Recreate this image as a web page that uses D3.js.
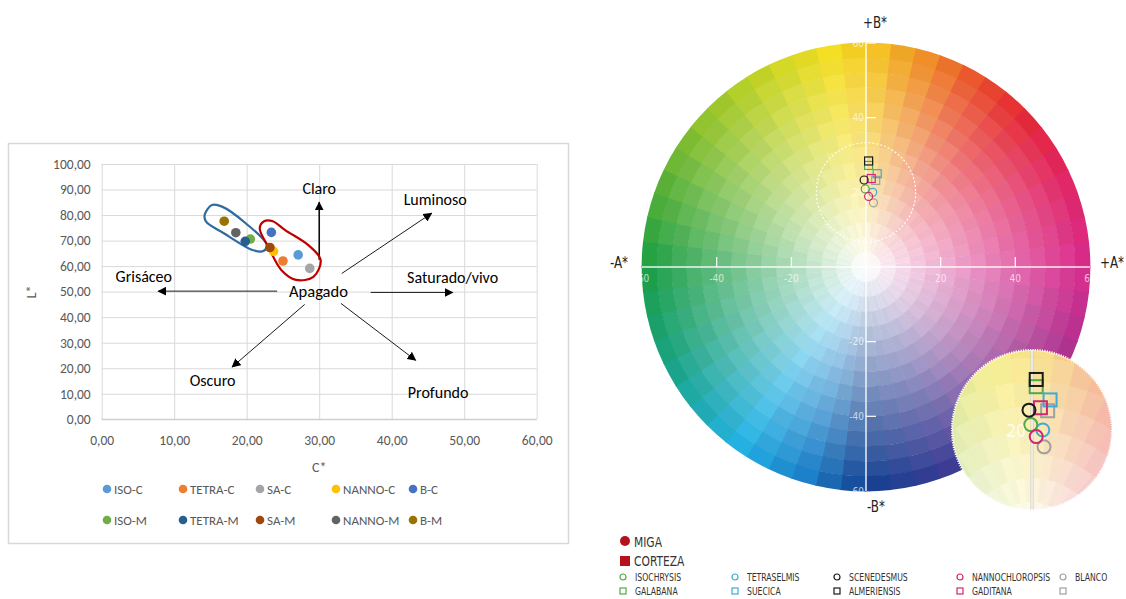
<!DOCTYPE html>
<html>
<head>
<meta charset="utf-8">
<script src="https://cdn.jsdelivr.net/npm/d3@7"></script>
<style>
  body { margin: 0; background: #fff; }
  svg { display: block; }
</style>
</head>
<body>
<svg id="chart" width="1126" height="599"></svg>
<script>
// ---------- left chart: L* vs C* ----------
const seriesNames = ["ISO-C", "TETRA-C", "SA-C", "NANNO-C", "B-C", "ISO-M", "TETRA-M", "SA-M", "NANNO-M", "B-M"];
const seriesColors = ["#5b9bd5", "#ed7d31", "#a5a5a5", "#ffc000", "#4472c4", "#70ad47", "#255e91", "#9e480e", "#636363", "#997300"];
const cValues = [27.1, 25.0, 28.7, 23.7, 23.4, 20.5, 19.8, 23.2, 18.5, 16.9];
const lValues = [64.4, 62.0, 59.1, 65.8, 73.2, 70.6, 69.7, 67.3, 73.1, 77.6];
const xTicks = [0, 10, 20, 30, 40, 50, 60];
const yTicks = [0, 10, 20, 30, 40, 50, 60, 70, 80, 90, 100];

// direction arrows (C*, L*) and their words
const arrowNames = ["Claro", "Luminoso", "Saturado/vivo", "Grisáceo", "Oscuro", "Profundo"];
const arrowFrom = [[30.0, 62.5], [33.1, 57.1], [37.1, 49.7], [24.2, 50.2], [28.0, 45.0], [33.0, 45.4]];
const arrowTo = [[30.0, 85.0], [45.5, 80.7], [48.4, 49.7], [7.8, 50.2], [18.0, 20.5], [43.3, 23.1]];
const wordPos = [[30.0, 90.5], [46.0, 86.1], [48.4, 55.6], [5.8, 55.8], [15.3, 15.3], [46.4, 10.5]];
const centerWord = "Apagado";
const centerPos = [29.9, 50.2];

// hand-drawn group outlines (C*, L*)
const blueLoop = [[14.2, 80.0], [15.2, 83.9], [16.6, 83.3], [19.9, 76.7], [22.8, 68.2], [22.3, 65.9], [20.8, 66.3], [16.9, 72.8], [14.4, 77.4]];
const redLoop = [[22.4, 77.6], [21.8, 74.8], [23.1, 66.9], [24.8, 58.4], [26.8, 54.6], [29.2, 55.8], [30.2, 62.4], [28.5, 68.2], [25.3, 74.1], [23.6, 77.6]];

// ---------- right chart: a* b* wheel ----------
const hueAngles = [0, 25, 45, 60, 75, 88, 100, 120, 150, 180, 205, 235, 255, 270, 295, 320, 345, 360];
const hueColors = ["#d9268b", "#e11f5d", "#e5222e", "#ea4f26", "#f08e22", "#f6c41c", "#f4df1e", "#bfd21f", "#6cb72e", "#159c3e", "#13a07c", "#1eb0e4", "#1579c6", "#0d3d8f", "#3c3592", "#85338f", "#bc2a8c", "#d9268b"];
const wheelTicks = [-60, -40, -20, 20, 40, 60];
const migaNames = ["ISOCHRYSIS", "TETRASELMIS", "SCENEDESMUS", "NANNOCHLOROPSIS", "BLANCO"];
const cortezaNames = ["GALABANA", "SUECICA", "ALMERIENSIS", "GADITANA", ""];
const speciesColors = ["#55a847", "#3eaad6", "#1a1a1a", "#d0286e", "#a0a0a0"];
const migaA = [-0.2, 1.8, -0.5, 0.7, 2.0];
const migaB = [20.9, 20.0, 23.3, 18.9, 17.2];
const cortezaA = [0.7, 3.0, 0.7, 1.4, 2.6];
const cortezaB = [27.2, 25.0, 28.4, 23.7, 23.2];

const svg = d3.select("#chart");

// squeeze a text to a narrower width (the source uses a condensed face)
function condense(sel, k) {
  sel.each(function () {
    const w = this.getComputedTextLength();
    if (w > 0) d3.select(this).attr("textLength", w * k).attr("lengthAdjust", "spacingAndGlyphs");
  });
}

// ===== left panel =====
svg.append("rect")
  .attr("x", 8.5).attr("y", 143.5).attr("width", 560).attr("height", 400)
  .attr("fill", "#fff").attr("stroke", "#d9d9d9").attr("stroke-width", 1.5);

const x = d3.scaleLinear().domain([0, 60]).range([101.7, 536.7]);
const y = d3.scaleLinear().domain([0, 100]).range([419.3, 164]);
const fmt = d => d3.format(".2f")(d).replace(".", ",");
const uiFont = "Carlito, Lato, 'Liberation Sans', sans-serif";

const gy = svg.append("g")
  .attr("transform", `translate(${x(0)},0)`)
  .call(d3.axisLeft(y).tickValues(yTicks).tickFormat(fmt)
    .tickSize(-(x(60) - x(0))).tickPadding(11));
const gx = svg.append("g")
  .attr("transform", `translate(0,${y(0)})`)
  .call(d3.axisBottom(x).tickValues(xTicks).tickFormat(fmt)
    .tickSize(-(y(0) - y(100))).tickPadding(16));
[gx, gy].forEach(g => {
  g.select(".domain").remove();
  g.selectAll("line").attr("stroke", "#d9d9d9");
  g.selectAll("text").attr("fill", "#595959")
    .style("font-family", uiFont).style("font-size", "13.5px");
});
svg.append("line")
  .attr("x1", x(0)).attr("x2", x(60)).attr("y1", y(0)).attr("y2", y(0))
  .attr("stroke", "#c8c8c8");

svg.append("text").attr("x", x(30)).attr("y", 472).attr("text-anchor", "middle")
  .attr("fill", "#595959").style("font-family", uiFont).style("font-size", "14px").text("C*");
svg.append("text").attr("transform", "translate(36,292) rotate(-90)").attr("text-anchor", "middle")
  .attr("fill", "#595959").style("font-family", uiFont).style("font-size", "14px").text("L*");

// arrow head
svg.append("defs").append("marker")
  .attr("id", "head").attr("viewBox", "0 0 10 10")
  .attr("refX", 9).attr("refY", 5)
  .attr("markerWidth", 9).attr("markerHeight", 9)
  .attr("markerUnits", "userSpaceOnUse")
  .attr("orient", "auto")
  .append("path").attr("d", "M0,0 L10,5 L0,10 Z").attr("fill", "#000");

svg.append("g").selectAll("line")
  .data(arrowFrom)
  .join("line")
  .attr("x1", d => x(d[0])).attr("y1", d => y(d[1]))
  .attr("x2", (d, i) => x(arrowTo[i][0])).attr("y2", (d, i) => y(arrowTo[i][1]))
  .attr("stroke", "#000").attr("stroke-width", (d, i) => i === 0 ? 1.5 : 0.9)
  .attr("marker-end", "url(#head)");

svg.append("g").selectAll("text")
  .data(arrowNames)
  .join("text")
  .attr("x", (d, i) => x(wordPos[i][0])).attr("y", (d, i) => y(wordPos[i][1]))
  .attr("dy", "0.35em").attr("text-anchor", "middle")
  .style("font-family", uiFont).style("font-size", "16px").attr("fill", "#000")
  .text(d => d);
svg.append("text")
  .attr("x", x(centerPos[0])).attr("y", y(centerPos[1])).attr("dy", "0.35em")
  .attr("text-anchor", "middle")
  .style("font-family", uiFont).style("font-size", "16.5px").text(centerWord);

const loop = d3.line().x(d => x(d[0])).y(d => y(d[1])).curve(d3.curveCatmullRomClosed.alpha(0.5));
svg.append("path").attr("d", loop(blueLoop)).attr("fill", "none")
  .attr("stroke", "#2e6b9e").attr("stroke-width", 2.2);
svg.append("path").attr("d", loop(redLoop)).attr("fill", "none")
  .attr("stroke", "#c00000").attr("stroke-width", 2.2);

// points
svg.append("g").selectAll("circle")
  .data(seriesNames)
  .join("circle")
  .attr("cx", (d, i) => x(cValues[i])).attr("cy", (d, i) => y(lValues[i]))
  .attr("r", 4.8)
  .attr("fill", (d, i) => seriesColors[i]);

// legend
const legCols = [107, 183, 260, 336, 413];
const legRows = [489, 520];
const leg = svg.append("g").selectAll("g")
  .data(seriesNames)
  .join("g")
  .attr("transform", (d, i) => `translate(${legCols[i % 5]},${legRows[Math.floor(i / 5)]})`);
leg.append("circle").attr("r", 4.3).attr("fill", (d, i) => seriesColors[i]);
leg.append("text").attr("x", 7).attr("dy", "0.35em")
  .attr("fill", "#595959").style("font-family", uiFont).style("font-size", "13px")
  .text(d => d);

// ===== right panel: colour wheel =====
const wc = { x: 866, y: 267 };
const R = 224;
const rad = d3.scaleLinear().domain([0, 60]).range([0, R]);
const ax = d3.scaleLinear().domain([-60, 60]).range([wc.x - R, wc.x + R]);
const by = d3.scaleLinear().domain([-60, 60]).range([wc.y + R, wc.y - R]);
const hue = d3.scaleLinear().domain(hueAngles).range(hueColors).interpolate(d3.interpolateRgb);
const arc = d3.arc();

function drawWheel(g) {
  const rings = 15, sectors = 56;
  const cells = [];
  for (let i = 0; i < rings; i++) {
    for (let j = 0; j < sectors; j++) {
      cells.push({ i, j });
    }
  }
  g.selectAll("path.cell")
    .data(cells)
    .join("path")
    .attr("class", "cell")
    .attr("transform", `translate(${wc.x},${wc.y})`)
    .attr("d", d => arc({
      innerRadius: rad(60 * d.i / rings),
      outerRadius: rad(60 * (d.i + 1) / rings) + 0.4,
      startAngle: d.j * 2 * Math.PI / sectors,
      endAngle: (d.j + 1) * 2 * Math.PI / sectors + 0.004
    }))
    .attr("fill", d => {
      const mid = (d.j + 0.5) * 360 / sectors;
      const theta = (450 - mid) % 360;
      const t = Math.pow((d.i + 0.5) / rings, 0.95);
      const c = d3.interpolateRgb("#ffffff", hue(theta))(t);
      return (d.i + d.j) % 2 ? d3.color(c).darker(0.04) : c;
    });
}

const wheel = svg.append("g");
drawWheel(wheel);

// axes
const axisG = svg.append("g").attr("stroke", "#fff").attr("stroke-opacity", 0.9);
axisG.append("line").attr("x1", ax(-60)).attr("x2", ax(60)).attr("y1", by(0)).attr("y2", by(0)).attr("stroke-width", 1.5);
axisG.append("line").attr("x1", ax(0)).attr("x2", ax(0)).attr("y1", by(60)).attr("y2", by(-60)).attr("stroke-width", 1.5);
axisG.selectAll("line.tx")
  .data(wheelTicks.filter(d => Math.abs(d) < 60))
  .join("line").attr("class", "tx")
  .attr("x1", d => ax(d)).attr("x2", d => ax(d)).attr("y1", by(0)).attr("y2", by(0) - 10).attr("stroke-width", 1.3);
axisG.selectAll("line.ty")
  .data(wheelTicks.filter(d => d !== 20 && d !== -60))
  .join("line").attr("class", "ty")
  .attr("x1", ax(0)).attr("x2", ax(0) + 10).attr("y1", d => by(d)).attr("y2", d => by(d)).attr("stroke-width", 1.3);

const tickFont = "'DejaVu Sans Condensed', 'Liberation Sans Narrow', sans-serif";
svg.append("g").selectAll("text")
  .data(wheelTicks)
  .join("text")
  .attr("x", d => ax(d)).attr("y", by(0) + 11).attr("dy", "0.35em")
  .attr("text-anchor", "middle").attr("fill", "#fff").attr("fill-opacity", 0.7)
  .style("font-family", tickFont).style("font-size", "10px")
  .text(d => d);
svg.append("g").selectAll("text")
  .data(wheelTicks)
  .join("text")
  .attr("x", ax(0) - 2).attr("y", d => by(d)).attr("dy", "0.35em")
  .attr("text-anchor", "end").attr("fill", "#fff").attr("fill-opacity", 0.7)
  .style("font-family", tickFont).style("font-size", "10px")
  .text(d => d);

const labFont = "'DejaVu Sans Condensed', 'Liberation Sans Narrow', sans-serif";
[["+B*", 875, 23, "middle"], ["-B*", 876, 507, "middle"], ["-A*", 628, 263, "end"], ["+A*", 1124, 263, "end"]]
  .forEach(l => svg.append("text").attr("x", l[1]).attr("y", l[2]).attr("dy", "0.35em")
    .attr("text-anchor", l[3]).style("font-family", labFont).style("font-size", "15px")
    .attr("fill", "#222").text(l[0]).call(condense, 0.88));

// dashed zoom circle
const zoomB = 20, zoomR = 13.3;
svg.append("circle").attr("cx", ax(0)).attr("cy", by(zoomB)).attr("r", rad(zoomR))
  .attr("fill", "none").attr("stroke", "#fff").attr("stroke-width", 1.2)
  .attr("stroke-dasharray", "2 2").attr("stroke-opacity", 0.9);

function drawMarks(g, px, py, cr, sq, sw) {
  g.append("g").selectAll("rect")
    .data([4, 0, 1, 3, 2])
    .join("rect")
    .attr("x", i => px(cortezaA[i]) - sq / 2).attr("y", i => py(cortezaB[i]) - sq / 2)
    .attr("width", sq).attr("height", sq)
    .attr("fill", "none").attr("stroke", i => speciesColors[i]).attr("stroke-width", sw);
  g.append("g").selectAll("circle")
    .data([4, 1, 0, 3, 2])
    .join("circle")
    .attr("cx", i => px(migaA[i])).attr("cy", i => py(migaB[i])).attr("r", cr)
    .attr("fill", "none").attr("stroke", i => speciesColors[i]).attr("stroke-width", sw);
}
drawMarks(svg.append("g"), ax, by, 4, 8, 1.2);

// magnified inset
const ins = { x: 1032, y: 430, r: 80 };
const mag = ins.r / rad(zoomR);
svg.append("clipPath").attr("id", "insClip")
  .append("circle").attr("cx", ins.x).attr("cy", ins.y).attr("r", ins.r);
const insG = svg.append("g").attr("clip-path", "url(#insClip)");
const insInner = insG.append("g")
  .attr("transform", `translate(${ins.x},${ins.y}) scale(${mag}) translate(${-ax(0)},${-by(zoomB)})`);
drawWheel(insInner);
insG.append("rect").attr("x", ins.x - ins.r).attr("y", ins.y - ins.r)
  .attr("width", 2 * ins.r).attr("height", 2 * ins.r).attr("fill", "#fff").attr("fill-opacity", 0.12);
insG.append("line").attr("x1", ins.x).attr("x2", ins.x).attr("y1", ins.y - ins.r).attr("y2", ins.y + ins.r)
  .attr("stroke", "#cfcabb").attr("stroke-width", 3);
insG.append("line").attr("x1", ins.x).attr("x2", ins.x).attr("y1", ins.y - ins.r).attr("y2", ins.y + ins.r)
  .attr("stroke", "#fff").attr("stroke-width", 1.2);
insG.append("text").attr("x", ins.x - 6).attr("y", ins.y + 1).attr("dy", "0.35em").attr("text-anchor", "end")
  .attr("fill", "#fff").attr("fill-opacity", 0.85)
  .style("font-family", tickFont).style("font-size", "17px").text(zoomB);
const ia = d3.scaleLinear().domain([0, 1]).range([ins.x, ins.x + rad(1) * mag]);
const ib = d3.scaleLinear().domain([zoomB, zoomB + 1]).range([ins.y, ins.y - rad(1) * mag]);
drawMarks(insG, ia, ib, 6.5, 13, 2);
svg.append("circle").attr("cx", ins.x).attr("cy", ins.y).attr("r", ins.r)
  .attr("fill", "none").attr("stroke", "#fff").attr("stroke-width", 2.2)
  .attr("stroke-dasharray", "1.2 1.2");

// wheel legend
const legFont = "'DejaVu Sans Condensed', 'Liberation Sans Narrow', sans-serif";
svg.append("circle").attr("cx", 625).attr("cy", 541).attr("r", 5).attr("fill", "#b5121b");
svg.append("text").attr("x", 634).attr("y", 542).attr("dy", "0.35em")
  .style("font-family", legFont).style("font-size", "13.5px").attr("fill", "#333").text("MIGA")
  .call(condense, 0.88);
svg.append("rect").attr("x", 620).attr("y", 556).attr("width", 10).attr("height", 10).attr("fill", "#b5121b");
svg.append("text").attr("x", 634).attr("y", 561).attr("dy", "0.35em")
  .style("font-family", legFont).style("font-size", "13.5px").attr("fill", "#333").text("CORTEZA")
  .call(condense, 0.88);

const wCols = [623, 735, 837, 960, 1063];
const wRows = [577, 591];
const wl = svg.append("g").selectAll("g")
  .data(migaNames)
  .join("g")
  .attr("transform", (d, i) => `translate(${wCols[i]},0)`);
wl.append("circle").attr("cy", wRows[0]).attr("r", 3).attr("fill", "none")
  .attr("stroke", (d, i) => speciesColors[i]).attr("stroke-width", 1.2);
wl.append("text").attr("x", 12).attr("y", wRows[0]).attr("dy", "0.35em")
  .style("font-family", legFont).style("font-size", "11px").attr("fill", "#333").text(d => d)
  .call(condense, 0.78);
wl.append("rect").attr("x", -3).attr("y", wRows[1] - 3).attr("width", 6).attr("height", 6)
  .attr("fill", "none").attr("stroke", (d, i) => speciesColors[i]).attr("stroke-width", 1.2);
wl.append("text").attr("x", 12).attr("y", wRows[1]).attr("dy", "0.35em")
  .style("font-family", legFont).style("font-size", "11px").attr("fill", "#333")
  .text((d, i) => cortezaNames[i])
  .call(condense, 0.78);
</script>
</body>
</html>
